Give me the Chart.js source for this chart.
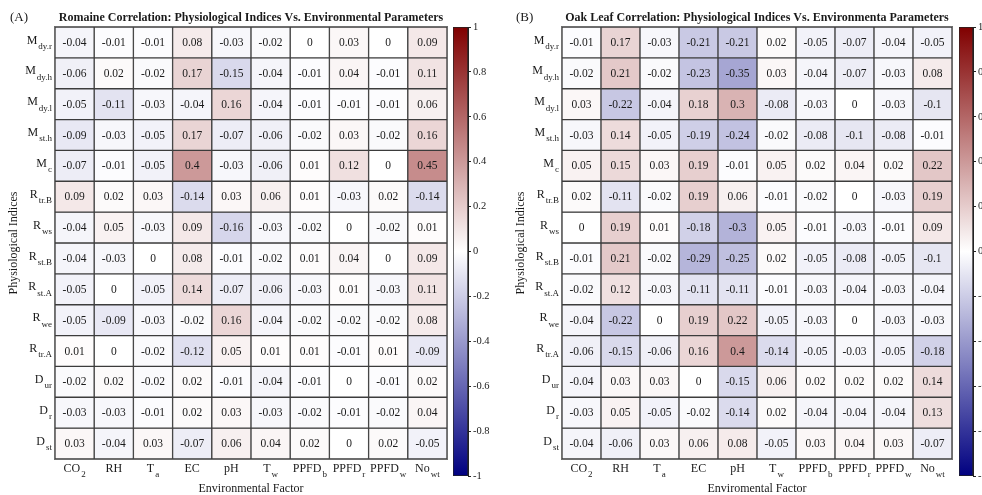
<!DOCTYPE html>
<html>
<head>
<meta charset="utf-8">
<script src="https://cdn.jsdelivr.net/npm/chart.js@4.4.0/dist/chart.umd.min.js"></script>
<style>
  html, body { margin: 0; padding: 0; background: #fff; }
  body { width: 982px; height: 495px; position: relative; overflow: hidden; }
  canvas { position: absolute; top: 0; }
</style>
</head>
<body>
<canvas id="heatA" width="452" height="495" style="left:0px"></canvas>
<canvas id="barA" width="38" height="495" style="left:452px"></canvas>
<canvas id="heatB" width="467" height="495" style="left:491px"></canvas>
<canvas id="barB" width="37" height="495" style="left:958px"></canvas>
<script>
// Environmental factors (columns): main symbol + subscript
const factorMain = ['CO', 'RH', 'T', 'EC', 'pH', 'T', 'PPFD', 'PPFD', 'PPFD', 'No'];
const factorSub  = ['2',  '',   'a', '',   '',   'w', 'b',    'r',    'w',    'wt'];
const factorKeys = ['CO2', 'RH', 'Ta', 'EC', 'pH', 'Tw', 'PPFDb', 'PPFDr', 'PPFDw', 'Nowt'];

// Physiological indices (rows): main symbol + subscript
const indexMain = ['M', 'M', 'M', 'M', 'M', 'R', 'R', 'R', 'R', 'R', 'R', 'D', 'D', 'D'];
const indexSub  = ['dy.r', 'dy.h', 'dy.l', 'st.h', 'c', 'tr.B', 'ws', 'st.B', 'st.A', 'we', 'tr.A', 'ur', 'r', 'st'];

// Colour-bar ticks
const colorbarTicks = [1, 0.8, 0.6, 0.4, 0.2, 0, -0.2, -0.4, -0.6, -0.8, -1];

// Correlation coefficients, Romaine (rows = indices, columns = factors)
const romaineCorr = [
  [-0.04, -0.01, -0.01,  0.08, -0.03, -0.02,  0,     0.03,  0,     0.09],
  [-0.06,  0.02, -0.02,  0.17, -0.15, -0.04, -0.01,  0.04, -0.01,  0.11],
  [-0.05, -0.11, -0.03, -0.04,  0.16, -0.04, -0.01, -0.01, -0.01,  0.06],
  [-0.09, -0.03, -0.05,  0.17, -0.07, -0.06, -0.02,  0.03, -0.02,  0.16],
  [-0.07, -0.01, -0.05,  0.4,  -0.03, -0.06,  0.01,  0.12,  0,     0.45],
  [ 0.09,  0.02,  0.03, -0.14,  0.03,  0.06,  0.01, -0.03,  0.02, -0.14],
  [-0.04,  0.05, -0.03,  0.09, -0.16, -0.03, -0.02,  0,    -0.02,  0.01],
  [-0.04, -0.03,  0,     0.08, -0.01, -0.02,  0.01,  0.04,  0,     0.09],
  [-0.05,  0,    -0.05,  0.14, -0.07, -0.06, -0.03,  0.01, -0.03,  0.11],
  [-0.05, -0.09, -0.03, -0.02,  0.16, -0.04, -0.02, -0.02, -0.02,  0.08],
  [ 0.01,  0,    -0.02, -0.12,  0.05,  0.01,  0.01, -0.01,  0.01, -0.09],
  [-0.02,  0.02, -0.02,  0.02, -0.01, -0.04, -0.01,  0,    -0.01,  0.02],
  [-0.03, -0.03, -0.01,  0.02,  0.03, -0.03, -0.02, -0.01, -0.02,  0.04],
  [ 0.03, -0.04,  0.03, -0.07,  0.06,  0.04,  0.02,  0,     0.02, -0.05]
];

// Correlation coefficients, Oak Leaf
const oakLeafCorr = [
  [-0.01,  0.17, -0.03, -0.21, -0.21,  0.02, -0.05, -0.07, -0.04, -0.05],
  [-0.02,  0.21, -0.02, -0.23, -0.35,  0.03, -0.04, -0.07, -0.03,  0.08],
  [ 0.03, -0.22, -0.04,  0.18,  0.3,  -0.08, -0.03,  0,    -0.03, -0.1 ],
  [-0.03,  0.14, -0.05, -0.19, -0.24, -0.02, -0.08, -0.1,  -0.08, -0.01],
  [ 0.05,  0.15,  0.03,  0.19, -0.01,  0.05,  0.02,  0.04,  0.02,  0.22],
  [ 0.02, -0.11, -0.02,  0.19,  0.06, -0.01, -0.02,  0,    -0.03,  0.19],
  [ 0,     0.19,  0.01, -0.18, -0.3,   0.05, -0.01, -0.03, -0.01,  0.09],
  [-0.01,  0.21, -0.02, -0.29, -0.25,  0.02, -0.05, -0.08, -0.05, -0.1 ],
  [-0.02,  0.12, -0.03, -0.11, -0.11, -0.01, -0.03, -0.04, -0.03, -0.04],
  [-0.04, -0.22,  0,     0.19,  0.22, -0.05, -0.03,  0,    -0.03, -0.03],
  [-0.06, -0.15, -0.06,  0.16,  0.4,  -0.14, -0.05, -0.03, -0.05, -0.18],
  [-0.04,  0.03,  0.03,  0,    -0.15,  0.06,  0.02,  0.02,  0.02,  0.14],
  [-0.03,  0.05, -0.05, -0.02, -0.14,  0.02, -0.04, -0.04, -0.04,  0.13],
  [-0.04, -0.06,  0.03,  0.06,  0.08, -0.05,  0.03,  0.04,  0.03, -0.07]
];

// ---- styling ----
const SERIF = '"Liberation Serif", "Times New Roman", serif';
const HOT = [128, 0, 0];     // colour at +1
const COLD = [0, 0, 128];    // colour at -1
const CELL_EDGE = '#3c3c3c';
const TEXT = '#1a1a1a';

// Diverging blue-white-red map
function corrColor(v) {
  const t = Math.max(-1, Math.min(1, v));
  const end = t >= 0 ? HOT : COLD;
  const a = Math.abs(t);
  const c = end.map(e => Math.round(255 + (e - 255) * a));
  return `rgb(${c[0]},${c[1]},${c[2]})`;
}

// Draw "Main" followed by a lowered subscript; align: 'right' | 'center'
function drawSubLabel(ctx, main, sub, x, y, align, mainPx, subPx) {
  ctx.font = `${mainPx}px ${SERIF}`;
  const wm = ctx.measureText(main).width;
  ctx.font = `${subPx}px ${SERIF}`;
  const ws = sub ? ctx.measureText(sub).width + 1 : 0;
  const total = wm + ws;
  const x0 = align === 'right' ? x - total : x - total / 2;
  ctx.textAlign = 'left';
  ctx.textBaseline = 'middle';
  ctx.font = `${mainPx}px ${SERIF}`;
  ctx.fillText(main, x0, y - 2);
  if (sub) {
    ctx.font = `${subPx}px ${SERIF}`;
    ctx.fillText(sub, x0 + wm + 1, y + 4);
  }
}

function heatmap(canvasId, values, opts) {
  const datasets = values.map((row, i) => ({
    label: indexMain[i] + indexSub[i],
    data: row.map(() => [i, i + 1]),
    corr: row,
    backgroundColor: row.map(corrColor),
    borderColor: CELL_EDGE,
    borderWidth: 1,
    borderSkipped: false,
    grouped: false,
    barPercentage: 1,
    categoryPercentage: 1,
    clip: false
  }));

  const decorations = {
    id: 'decorations',
    afterDatasetsDraw(chart) {
      const ctx = chart.ctx;
      const area = chart.chartArea;
      const xs = chart.scales.x, ys = chart.scales.y;
      ctx.save();
      // cell values
      ctx.fillStyle = TEXT;
      ctx.font = `11.5px ${SERIF}`;
      ctx.textAlign = 'center';
      ctx.textBaseline = 'middle';
      chart.data.datasets.forEach((ds, i) => {
        chart.getDatasetMeta(i).data.forEach((bar, j) => {
          const cy = (bar.y + bar.base) / 2;
          ctx.fillText(String(ds.corr[j]), bar.x, cy + 0.5);
        });
      });
      // outer frame
      ctx.strokeStyle = '#6e6e6e';
      ctx.lineWidth = 1;
      ctx.strokeRect(area.left - 0.5, area.top - 0.5, area.right - area.left + 1, area.bottom - area.top + 1);

      // row labels
      ctx.fillStyle = TEXT;
      indexMain.forEach((m, i) => {
        drawSubLabel(ctx, m, indexSub[i], area.left - 3, ys.getPixelForValue(i + 0.5), 'right', 12, 9);
      });
      // column labels
      factorMain.forEach((m, j) => {
        drawSubLabel(ctx, m, factorSub[j], xs.getPixelForValue(j), area.bottom + 12, 'center', 12, 9);
      });
      // axis titles
      ctx.font = `12px ${SERIF}`;
      ctx.textAlign = 'center';
      ctx.textBaseline = 'middle';
      ctx.fillText(opts.xTitle, (area.left + area.right) / 2, area.bottom + 30);
      ctx.save();
      ctx.translate(opts.yTitleX, (area.top + area.bottom) / 2);
      ctx.rotate(-Math.PI / 2);
      ctx.fillText('Physiological Indices', 0, 0);
      ctx.restore();
      // panel title and tag
      ctx.font = `bold 12px ${SERIF}`;
      ctx.fillText(opts.title, opts.titleX, 18);
      ctx.font = `13px ${SERIF}`;
      ctx.textAlign = 'left';
      ctx.fillText(opts.tag, opts.tagX, 18);
      ctx.restore();
    }
  };

  return new Chart(document.getElementById(canvasId), {
    type: 'bar',
    data: { labels: factorKeys, datasets },
    options: {
      responsive: false,
      animation: false,
      events: [],
      layout: { padding: opts.padding },
      plugins: { legend: { display: false }, tooltip: { enabled: false } },
      scales: {
        x: { type: 'category', display: false, offset: true },
        y: { type: 'linear', min: 0, max: indexMain.length, reverse: true, display: false }
      }
    },
    plugins: [decorations]
  });
}

function colorbar(canvasId, padding) {
  return new Chart(document.getElementById(canvasId), {
    type: 'bar',
    data: {
      labels: ['r'],
      datasets: [{
        data: [[colorbarTicks[colorbarTicks.length - 1], colorbarTicks[0]]],
        backgroundColor(context) {
          const chart = context.chart;
          if (!chart.chartArea) return '#ffffff';
          const ys = chart.scales.y;
          const g = chart.ctx.createLinearGradient(0, ys.getPixelForValue(1), 0, ys.getPixelForValue(-1));
          for (let k = 0; k <= 20; k++) {
            g.addColorStop(k / 20, corrColor(1 - k / 10));
          }
          return g;
        },
        borderColor: '#222',
        borderWidth: 1,
        borderSkipped: false,
        barPercentage: 1,
        categoryPercentage: 1
      }]
    },
    options: {
      responsive: false,
      animation: false,
      events: [],
      layout: { padding },
      plugins: { legend: { display: false }, tooltip: { enabled: false } },
      scales: {
        x: { display: false },
        y: {
          position: 'right',
          min: -1, max: 1,
          afterBuildTicks(scale) { scale.ticks = colorbarTicks.map(v => ({ value: v })); },
          afterFit(scale) { scale.width = 22; },
          ticks: {
            callback: v => String(Math.round(v * 10) / 10),
            font: { family: SERIF, size: 10.5 },
            color: TEXT,
            padding: 2
          },
          grid: { drawOnChartArea: false, tickLength: 3, color: '#222' },
          border: { display: true, color: '#222' }
        }
      }
    }
  });
}

heatmap('heatA', romaineCorr, {
  padding: { left: 55, top: 27, right: 5, bottom: 36 },
  title: 'Romaine Correlation: Physiological Indices Vs. Environmental Parameters',
  titleX: 251, tag: '(A)', tagX: 10, yTitleX: 14,
  xTitle: 'Environmental Factor'
});
colorbar('barA', { left: 1, top: 27, right: 0, bottom: 19 });

heatmap('heatB', oakLeafCorr, {
  padding: { left: 71, top: 27, right: 6, bottom: 36 },
  title: 'Oak Leaf Correlation: Physiological Indices Vs. Environmenta Parameters',
  titleX: 266, tag: '(B)', tagX: 25, yTitleX: 30,
  xTitle: 'Enviromental Factor'
});
colorbar('barB', { left: 1, top: 27, right: 0, bottom: 19 });
</script>
</body>
</html>
